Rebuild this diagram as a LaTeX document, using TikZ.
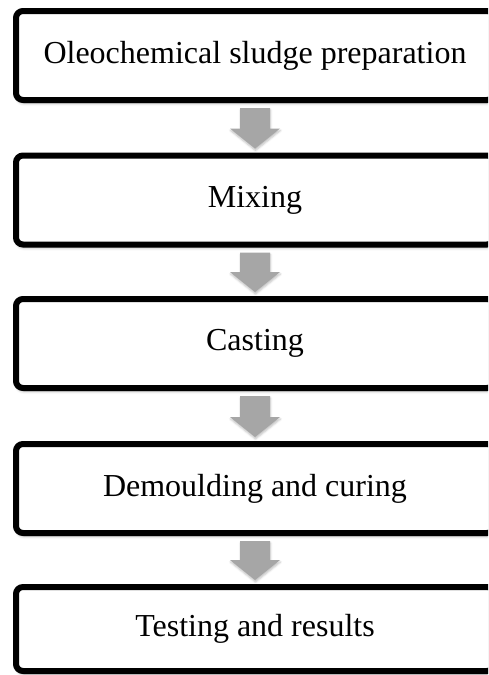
\documentclass[tikz,border=0pt]{standalone}
\usepackage{fontspec}
\setmainfont{Liberation Serif}
\usetikzlibrary{calc,shadows.blur}
\tikzset{
  stepbox/.style={draw=black, line width=6pt, fill=white, rounded corners=7pt,
    minimum width=478pt, minimum height=89pt, inner sep=0pt,
    font=\fontsize{32}{38}\selectfont,
    blur shadow={shadow xshift=1pt, shadow yshift=-3pt, shadow blur radius=3pt, shadow opacity=35}},
  blockarrow/.style={fill=black!35, draw=none,
    blur shadow={shadow xshift=0.5pt, shadow yshift=-2pt, shadow blur radius=2pt, shadow opacity=25}}
}
\begin{document}
\begin{tikzpicture}[x=1pt,y=1pt]
\useasboundingbox (0,0) rectangle (488,-675);
\clip (0,0) rectangle (488,-675);
\node[stepbox] (b1) at (255,-55.5) {Oleochemical sludge preparation};
\node[stepbox] (b2) at (255,-200) {Mixing};
\node[stepbox] (b3) at (255,-343.5) {Casting};
\node[stepbox] (b4) at (255,-488.5) {Demoulding and curing};
\node[stepbox, minimum height=84pt] (b5) at (255,-629) {Testing and results};
\foreach \a/\b in {b1/b2,b2/b3,b3/b4,b4/b5}{
  \fill[blockarrow] ($(\a.south)+(-15,-5)$) -- ($(\a.south)+(15,-5)$)
    -- ($(\b.north)+(15,24)$) -- ($(\b.north)+(25,24)$)
    -- ($(\b.north)+(0,4)$)
    -- ($(\b.north)+(-25,24)$) -- ($(\b.north)+(-15,24)$) -- cycle;
}
\end{tikzpicture}
\end{document}
